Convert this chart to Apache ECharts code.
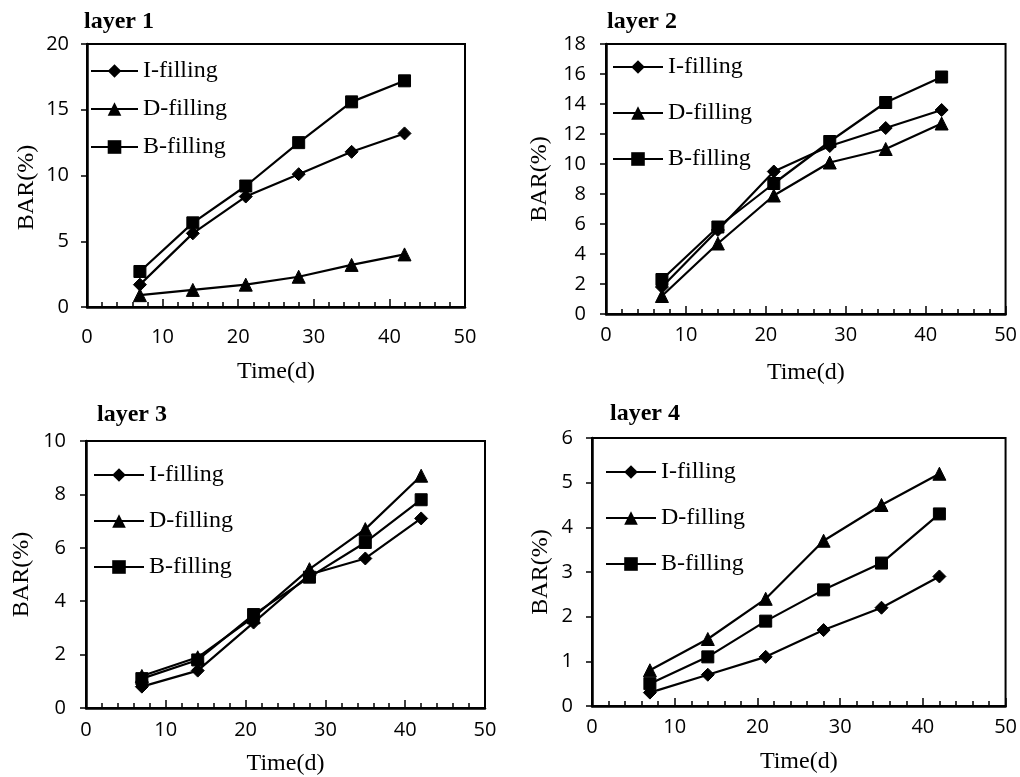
<!DOCTYPE html>
<html>
<head>
<meta charset="utf-8">
<script src="https://cdn.jsdelivr.net/npm/echarts@6/dist/echarts.min.js"></script>
<style>
html,body{margin:0;padding:0;background:#fff;}
#chart{width:1020px;height:777px;}
</style>
</head>
<body>
<div id="chart"></div>
<script>
// ---- data ----
const days = [7, 14, 21, 28, 35, 42];
const seriesNames = ['I-filling', 'D-filling', 'B-filling'];
const panelTitles = ['layer 1', 'layer 2', 'layer 3', 'layer 4'];
const xTicks = [0, 10, 20, 30, 40, 50];

const layer1I = [1.7, 5.6, 8.4, 10.1, 11.8, 13.2];
const layer1D = [0.9, 1.3, 1.7, 2.3, 3.2, 4.0];
const layer1B = [2.7, 6.4, 9.2, 12.5, 15.6, 17.2];

const layer2I = [1.8, 5.6, 9.5, 11.2, 12.4, 13.6];
const layer2D = [1.2, 4.7, 7.9, 10.1, 11.0, 12.7];
const layer2B = [2.3, 5.8, 8.7, 11.5, 14.1, 15.8];

const layer3I = [0.8, 1.4, 3.2, 5.0, 5.6, 7.1];
const layer3D = [1.2, 1.9, 3.4, 5.2, 6.7, 8.7];
const layer3B = [1.1, 1.8, 3.5, 4.9, 6.2, 7.8];

const layer4I = [0.3, 0.7, 1.1, 1.7, 2.2, 2.9];
const layer4D = [0.8, 1.5, 2.4, 3.7, 4.5, 5.2];
const layer4B = [0.5, 1.1, 1.9, 2.6, 3.2, 4.3];

const yMax = [20, 18, 10, 6];
const yStep = [5, 2, 2, 1];

// ---- layout / style ----
const panelData = [
  [layer1I, layer1D, layer1B],
  [layer2I, layer2D, layer2B],
  [layer3I, layer3D, layer3B],
  [layer4I, layer4D, layer4B]
];
const grids = [
  {left: 87, top: 44, width: 378, height: 263},
  {left: 606, top: 44, width: 403, height: 270},
  {left: 86, top: 441, width: 399, height: 268},
  {left: 592, top: 438, width: 418, height: 268}
];
const titlePos = [[84, 10], [607, 10], [97, 403], [610, 402]];
const legendPos = [
  {left: 90, top: 59, itemGap: 14, itemWidth: 47},
  {left: 612, top: 55, itemGap: 22, itemWidth: 50},
  {left: 93, top: 463, itemGap: 22, itemWidth: 50},
  {left: 605, top: 460, itemGap: 22, itemWidth: 50}
];
const xLabelMargin = [20, 11, 12, 11];
const yLabelMargin = [18, 20, 20, 19];
const xNameGap = [53, 47, 44, 44];
const yNameGap = [48, 54, 52, 39];
const yNamePad = [[0, 24, 0, 0], [0, 0, 0, 0], [0, 0, 0, 0], [0, 0, 0, 0]];
const symbols = ['diamond', 'triangle', 'rect'];
const symSizes = [13, 13, 12];

const serif = 'Liberation Serif';
const sans = '"Open Sans", sans-serif';

const option = {
  backgroundColor: '#fff',
  animation: false,
  title: panelTitles.map((t, i) => ({
    text: t, left: titlePos[i][0], top: titlePos[i][1], padding: 0,
    textStyle: {fontFamily: serif, fontWeight: 'bold', fontSize: 24, color: '#000'}
  })),
  grid: grids.map(g => Object.assign({show: true, borderColor: '#000', borderWidth: 2, backgroundColor: 'transparent'}, g)),
  legend: legendPos.map((l, i) => ({
    left: l.left, top: l.top, orient: 'vertical', itemGap: l.itemGap, itemWidth: l.itemWidth,
    itemHeight: 17, padding: 0, data: seriesNames,
    textStyle: {fontFamily: serif, fontSize: 24, color: '#000', lineHeight: 24},
    inactiveColor: '#000'
  })),
  xAxis: grids.map((g, i) => ({
    type: 'value', gridIndex: i, min: xTicks[0], max: xTicks[xTicks.length - 1], interval: 10,
    name: 'Time(d)', nameLocation: 'middle', nameGap: xNameGap[i],
    nameTextStyle: {fontFamily: serif, fontSize: 24, color: '#000'},
    axisLine: {lineStyle: {color: '#000', width: 2.5}},
    axisTick: {inside: true, length: 8, lineStyle: {color: '#000', width: 1.5}},
    minorTick: {show: true, splitNumber: 5, length: 5, lineStyle: {color: '#000', width: 1.5}},
    splitLine: {show: false},
    axisLabel: {fontFamily: sans, fontSize: 20, color: '#000', margin: xLabelMargin[i]}
  })),
  yAxis: grids.map((g, i) => ({
    type: 'value', gridIndex: i, min: 0, max: yMax[i], interval: yStep[i],
    name: 'BAR(%)', nameLocation: 'middle', nameGap: yNameGap[i],
    nameTextStyle: {fontFamily: serif, fontSize: 24, color: '#000', padding: yNamePad[i]},
    axisLine: {lineStyle: {color: '#000', width: 2.5}},
    axisTick: {inside: false, length: 6, lineStyle: {color: '#000', width: 1.5}},
    splitLine: {show: false},
    axisLabel: {fontFamily: sans, fontSize: 20, color: '#000', margin: yLabelMargin[i]}
  })),
  series: []
};

panelData.forEach((sets, p) => {
  sets.forEach((vals, s) => {
    option.series.push({
      type: 'line', name: seriesNames[s], xAxisIndex: p, yAxisIndex: p,
      data: days.map((d, k) => [d, vals[k]]),
      symbol: symbols[s], symbolSize: symSizes[s],
      lineStyle: {color: '#000', width: 2.2},
      itemStyle: {color: '#000', borderColor: '#000'},
      z: 3 + s
    });
  });
});

const chart = echarts.init(document.getElementById('chart'), null, {renderer: 'canvas'});
chart.setOption(option);
</script>
</body>
</html>
